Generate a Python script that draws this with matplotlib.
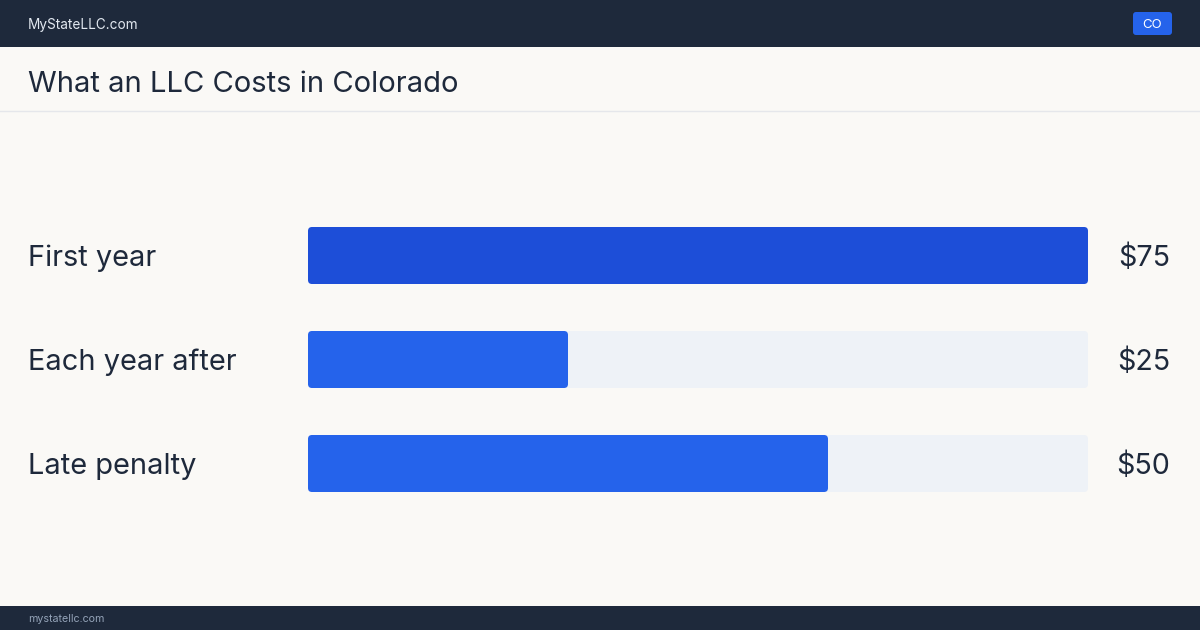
import matplotlib
matplotlib.use("Agg")
import matplotlib.pyplot as plt
from matplotlib.patches import FancyBboxPatch, Rectangle
from matplotlib import transforms

categories = ["First year", "Each year after", "Late penalty"]
values = [75, 25, 50]
value_labels = ["$75", "$25", "$50"]
title = "What an LLC Costs in Colorado"
brand = "MyStateLLC.com"
footer = "mystatellc.com"
badge = "CO"

plt.rcParams["font.family"] = ["Inter", "DejaVu Sans"]

W, H = 1200, 630
fig = plt.figure(figsize=(W / 100, H / 100), dpi=100, facecolor="#faf9f6")

# full-figure axes in pixel coords for the page furniture
bg = fig.add_axes([0, 0, 1, 1])
bg.set_xlim(0, W)
bg.set_ylim(H, 0)
bg.axis("off")
bg.add_patch(Rectangle((0, 0), W, 47, color="#1e293b", lw=0))
bg.add_patch(Rectangle((0, 606), W, 24, color="#1e293b", lw=0))
bg.plot([0, W], [111, 111], color="#e5e7eb", lw=1)
bg.text(28, 24.5, brand, color="#e2e8f0", fontsize=9.8, va="center", ha="left")
bg.add_patch(FancyBboxPatch((1133, 12), 39, 23, boxstyle="round,pad=0,rounding_size=3",
                            color="#2563eb", lw=0))
bg.text(1152.5, 25, badge, color="white", fontsize=9.5, va="center", ha="center")
bg.text(28, 84, title, color="#1e293b", fontsize=21, va="center", ha="left")
bg.text(28, 619, footer, color="#94a3b8", fontsize=7.7, va="center", ha="left")

# bar axes
vmax = max(values)
ax = fig.add_axes([308 / W, (H - 515.5) / H, 780 / W, 312 / H])
ax.set_xlim(0, vmax)
ax.set_ylim(len(categories) - 0.5, -0.5)
ax.axis("off")
ax.patch.set_alpha(0)

bar_h = 57 / 104
aspect = (780 / vmax) / 104
r = 4 / (780 / vmax)
colors = ["#1d4ed8", "#2563eb", "#2563eb"]
for i, v in enumerate(values):
    ax.add_patch(FancyBboxPatch((0, i - bar_h / 2), vmax, bar_h,
                                boxstyle=f"round,pad=0,rounding_size={r}",
                                mutation_aspect=aspect, color="#eef2f7", lw=0))
    ax.add_patch(FancyBboxPatch((0, i - bar_h / 2), v, bar_h,
                                boxstyle=f"round,pad=0,rounding_size={r}",
                                mutation_aspect=aspect, color=colors[i], lw=0))

trans = transforms.blended_transform_factory(fig.transFigure, ax.transData)
dy = 3 / 104
for i, (c, lab) in enumerate(zip(categories, value_labels)):
    ax.text(28 / W, i + dy, c, transform=trans, color="#1e293b", fontsize=20.9,
            va="center", ha="left")
    ax.text(1170 / W, i + dy, lab, transform=trans, color="#1e293b", fontsize=20.6,
            va="center", ha="right")

fig.savefig("out.png", dpi=100, facecolor=fig.get_facecolor())
